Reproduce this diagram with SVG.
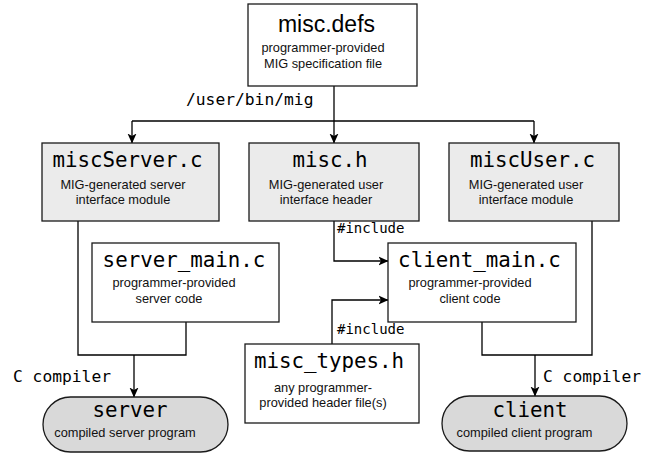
<svg xmlns="http://www.w3.org/2000/svg" width="655" height="455" viewBox="0 0 655 455">
  <defs>
    <marker id="arrow" markerWidth="10" markerHeight="10" refX="9.5" refY="5" orient="auto" markerUnits="userSpaceOnUse">
      <path d="M0,0.5 L10,5 L0,9.5 L2.5,5 Z" fill="#000"/>
    </marker>
    <style>
      .box { fill: #fff; stroke: #1a1a1a; stroke-width: 1.3; }
      .gen { fill: #ebebeb; stroke: #1a1a1a; stroke-width: 1.3; }
      .pill { fill: #d9d9d9; stroke: #1a1a1a; stroke-width: 1.3; }
      .title { font-family: "DejaVu Sans Mono", "Liberation Mono", monospace; font-size: 20.8px; fill: #000; text-anchor: middle; }
      .sub { font-family: "Liberation Sans", Arial, sans-serif; font-size: 12.8px; fill: #111; text-anchor: middle; }
      .lbl { font-family: "DejaVu Sans Mono", "Liberation Mono", monospace; font-size: 16.3px; fill: #000; }
      .inc { font-family: "DejaVu Sans Mono", "Liberation Mono", monospace; font-size: 14px; fill: #000; }
      .wire { fill: none; stroke: #000; stroke-width: 1.3; }
    </style>
  </defs>

  <rect width="655" height="455" fill="#fff"/>

  <!-- connectors -->
  <g id="connectors">
    <path class="wire" d="M334,86 V121"/>
    <path class="wire" d="M132,121 H534"/>
    <path class="wire" d="M132,121 V143" marker-end="url(#arrow)"/>
    <path class="wire" d="M334,121 V143" marker-end="url(#arrow)"/>
    <path class="wire" d="M534,121 V143" marker-end="url(#arrow)"/>
    <!-- server side build -->
    <path class="wire" d="M78,221 V355 H186 V322"/>
    <path class="wire" d="M134,355 V397" marker-end="url(#arrow)"/>
    <!-- client side build -->
    <path class="wire" d="M592,221 V355 H482 V322"/>
    <path class="wire" d="M535,355 V396" marker-end="url(#arrow)"/>
    <!-- includes -->
    <path class="wire" d="M334,221 V261 H388" marker-end="url(#arrow)"/>
    <path class="wire" d="M332,344 V300 H388" marker-end="url(#arrow)"/>

    <text class="lbl" x="186" y="105">/user/bin/mig</text>
    <text class="inc" x="337" y="233">#include</text>
    <text class="inc" x="337" y="334">#include</text>
    <text class="lbl" x="13" y="382">C compiler</text>
    <text class="lbl" x="543" y="382">C compiler</text>
  </g>

  <g id="misc-defs">
    <rect class="box" x="248" y="4" width="169" height="82"/>
    <text x="326.5" y="32" font-family="Liberation Sans, Arial, sans-serif" font-size="23" text-anchor="middle">misc.defs</text>
    <text class="sub" x="323" y="52">programmer-provided</text>
    <text class="sub" x="323" y="68">MIG specification file</text>
  </g>

  <g id="miscServer-c">
    <rect class="gen" x="42" y="143" width="177" height="78"/>
    <text class="title" x="127.5" y="167">miscServer.c</text>
    <text class="sub" x="123" y="189">MIG-generated server</text>
    <text class="sub" x="123" y="204">interface module</text>
  </g>

  <g id="misc-h">
    <rect class="gen" x="249" y="143" width="170" height="78"/>
    <text class="title" x="330" y="167">misc.h</text>
    <text class="sub" x="326" y="189">MIG-generated user</text>
    <text class="sub" x="326" y="204">interface header</text>
  </g>

  <g id="miscUser-c">
    <rect class="gen" x="449" y="143" width="170" height="78"/>
    <text class="title" x="532.5" y="167">miscUser.c</text>
    <text class="sub" x="526" y="189">MIG-generated user</text>
    <text class="sub" x="526" y="204">interface module</text>
  </g>

  <g id="server-main-c">
    <rect class="box" x="92" y="243" width="187" height="79"/>
    <text class="title" x="184" y="267">server_main.c</text>
    <text class="sub" x="174" y="287">programmer-provided</text>
    <text class="sub" x="169" y="303">server code</text>
  </g>

  <g id="client-main-c">
    <rect class="box" x="388" y="243" width="188" height="79"/>
    <text class="title" x="479.5" y="267">client_main.c</text>
    <text class="sub" x="470" y="287">programmer-provided</text>
    <text class="sub" x="470" y="303">client code</text>
  </g>

  <g id="misc-types-h">
    <rect class="box" x="245" y="344" width="174" height="79"/>
    <text class="title" x="329" y="368">misc_types.h</text>
    <text class="sub" x="323" y="392">any programmer-</text>
    <text class="sub" x="323" y="407">provided header file(s)</text>
  </g>

  <g id="server">
    <rect class="pill" x="43" y="397" width="185" height="55" rx="27.5" ry="27.5"/>
    <text class="title" x="130" y="417">server</text>
    <text class="sub" x="125" y="437">compiled server program</text>
  </g>

  <g id="client">
    <rect class="pill" x="442" y="396" width="185" height="55" rx="27.5" ry="27.5"/>
    <text class="title" x="530" y="417">client</text>
    <text class="sub" x="524.5" y="437">compiled client program</text>
  </g>
</svg>
